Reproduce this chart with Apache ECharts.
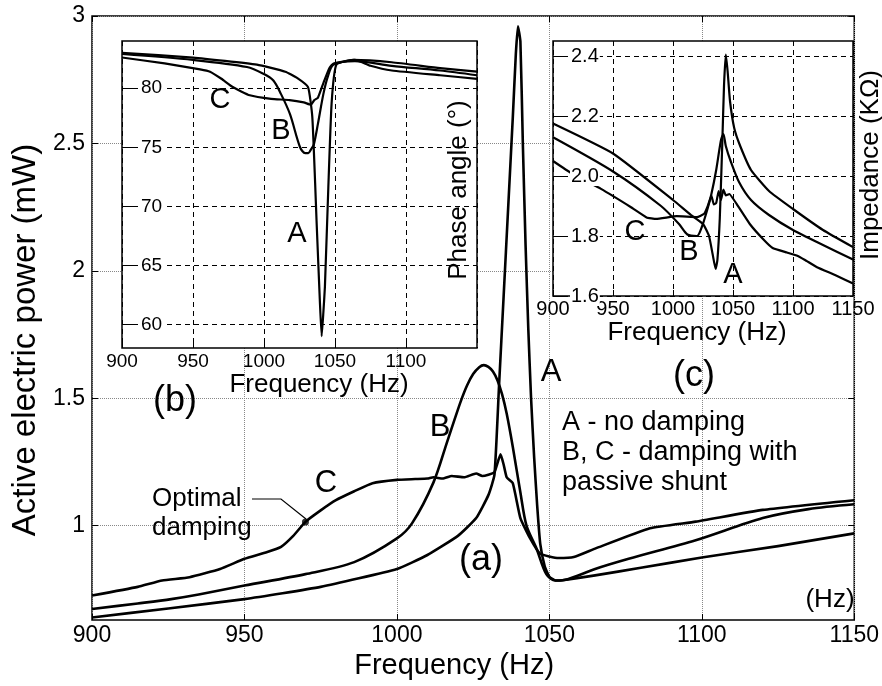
<!DOCTYPE html>
<html><head><meta charset="utf-8">
<script src="https://cdn.jsdelivr.net/npm/echarts@6/dist/echarts.min.js"></script>
<style>html,body{margin:0;padding:0;background:#fff}#c{width:882px;height:686px}</style>
</head><body><div id="c"></div>
<script>
const FONT = "'Liberation Sans', Arial, Helvetica, sans-serif";

// ---- tick values ----
const freqTicks = [900, 950, 1000, 1050, 1100, 1150];
const powerTicks = [1, 1.5, 2, 2.5, 3];
const phaseTicks = [60, 65, 70, 75, 80];
const impTicks = [1.6, 1.8, 2.0, 2.2, 2.4];

// ---- (a) active electric power (mW) ----
const powerFreqA = [900, 925, 950, 975, 1000, 1010, 1020, 1026, 1030, 1032, 1033.5, 1035, 1036.5, 1038, 1039, 1039.7, 1040.5, 1041.3, 1042.2, 1043.1, 1044, 1045, 1046, 1047, 1048.5, 1050, 1052, 1055, 1065, 1080, 1100, 1125, 1150];
const powerA = [0.64, 0.675, 0.712, 0.76, 0.83, 0.885, 0.96, 1.03, 1.12, 1.2, 1.55, 1.9, 2.25, 2.6, 2.85, 2.96, 2.9, 2.5, 2.1, 1.77, 1.5, 1.27, 1.08, 0.93, 0.84, 0.8, 0.785, 0.787, 0.805, 0.835, 0.875, 0.92, 0.97];

const powerFreqB = [900, 915, 926, 935, 950, 970, 986, 1000, 1005, 1012, 1016.5, 1019, 1021, 1023, 1025, 1027, 1028.5, 1030, 1031.5, 1033, 1034.5, 1036, 1038, 1040.5, 1042.5, 1045.8, 1049, 1052, 1056, 1065, 1076, 1098, 1120, 1135, 1150];
const powerB = [0.673, 0.695, 0.712, 0.73, 0.765, 0.81, 0.857, 0.95, 1.01, 1.17, 1.33, 1.42, 1.49, 1.55, 1.595, 1.622, 1.63, 1.623, 1.605, 1.57, 1.515, 1.44, 1.31, 1.13, 1.0, 0.91, 0.81, 0.785, 0.79, 0.83, 0.87, 0.943, 1.03, 1.065, 1.084];

const powerFreqC = [900, 915, 923, 932, 942, 950, 957, 962, 966, 970, 975, 980, 986, 992, 1000, 1006, 1010, 1012, 1015, 1018, 1022, 1026, 1028, 1030, 1032, 1034, 1035, 1036, 1038, 1040.5, 1043.7, 1047, 1053, 1058, 1065, 1083, 1098, 1120, 1150];
const powerC = [0.726, 0.76, 0.785, 0.798, 0.83, 0.87, 0.895, 0.917, 0.96, 1.015, 1.06, 1.1, 1.135, 1.167, 1.18, 1.183, 1.185, 1.19, 1.185, 1.195, 1.19, 1.205, 1.195, 1.2, 1.21, 1.28, 1.24, 1.19, 1.167, 1.03, 0.95, 0.89, 0.873, 0.877, 0.91, 0.99, 1.016, 1.062, 1.1];

const optimalPoint = [970, 1.015];

// ---- (b) phase angle (deg) ----
const phaseFreqA = [900, 950, 995, 1015, 1023, 1031, 1034, 1036, 1037, 1039.4, 1040.6, 1041.8, 1042.9, 1045.3, 1047.6, 1051, 1063, 1090, 1124, 1150];
const phaseA = [83.0, 82.6, 82.0, 81.4, 80.9, 80.1, 77.6, 72, 68.8, 61.8, 59.0, 61, 63.2, 71.6, 78.7, 82.0, 82.4, 82.2, 81.7, 81.4];

const phaseFreqB = [900, 950, 988, 1000, 1006.6, 1012, 1018.3, 1025.4, 1029, 1031.2, 1033, 1035, 1038, 1041.8, 1045, 1049, 1064, 1090, 1124, 1150];
const phaseB = [82.9, 82.4, 81.8, 81.2, 80.65, 79.5, 77.8, 75.0, 74.5, 74.5, 74.8, 75.2, 77, 79.5, 81, 82.0, 82.3, 81.9, 81.5, 81.1];

const phaseFreqC = [900, 930, 955, 962, 970, 978, 990, 1005, 1018, 1028, 1033, 1035.5, 1038, 1042, 1046, 1049, 1064, 1075, 1090, 1124, 1150];
const phaseC = [82.6, 82.1, 81.6, 81.4, 80.8, 80.1, 79.4, 79.1, 79.0, 78.8, 78.6, 79.0, 79.2, 80.5, 81.7, 82.1, 82.4, 81.9, 81.5, 81.1, 80.8];

// ---- (c) impedance (kOhm) ----
const impFreqA = [900, 950, 1000, 1015, 1025, 1030, 1033, 1035.5, 1037, 1039, 1041, 1042.5, 1044, 1045.5, 1047.5, 1051, 1056, 1065, 1080, 1100, 1125, 1150];
const impA = [2.175, 2.075, 1.92, 1.87, 1.84, 1.8, 1.74, 1.69, 1.72, 1.86, 2.1, 2.3, 2.405, 2.35, 2.25, 2.16, 2.1, 2.02, 1.95, 1.89, 1.82, 1.763];

const impFreqB = [900, 950, 990, 1005, 1012, 1020, 1024, 1028, 1032, 1036, 1040, 1042, 1044, 1048, 1055, 1065, 1080, 1100, 1125, 1150];
const impB = [2.129, 2.015, 1.9, 1.84, 1.805, 1.8, 1.83, 1.88, 1.94, 2.02, 2.12, 2.14, 2.1, 2.05, 1.98, 1.92, 1.87, 1.82, 1.77, 1.722];

const impFreqC = [900, 915, 940, 965, 978, 986, 1003, 1020, 1026, 1029, 1032, 1034, 1036, 1038, 1040, 1042, 1044, 1047, 1053, 1064, 1075, 1083, 1095, 1103, 1110, 1120, 1135, 1150];
const impC = [2.05, 2.01, 1.957, 1.896, 1.862, 1.857, 1.866, 1.863, 1.874, 1.9, 1.935, 1.905, 1.91, 1.95, 1.92, 1.955, 1.935, 1.94, 1.907, 1.84, 1.79, 1.76, 1.745, 1.735, 1.72, 1.696, 1.67, 1.642];

const zip = (xs, ys) => xs.map((x, i) => [x, ys[i]]);
const plain = v => String(v);

const txt = { color: '#000', fontFamily: FONT };
const mainDotted = { show: true, lineStyle: { type: 'dotted', color: '#888', width: 1 } };
const insetDashed = { show: true, lineStyle: { type: [5, 4], color: '#000', width: 1 } };

function line(name, xi, yi, data, w, z, smooth) {
  return { name, type: 'line', xAxisIndex: xi, yAxisIndex: yi, data, showSymbol: false, symbol: 'none',
    smooth: smooth,
    lineStyle: { color: '#000', width: w, join: 'round' }, z: z, animation: false, silent: true };
}

function gText(text, x, y, size, opts) {
  return Object.assign({ type: 'text', x, y, z: 100,
    style: { text, fontSize: size, fontFamily: FONT, fill: '#000', align: 'center', verticalAlign: 'middle' } }, opts || {});
}
function gTextL(text, x, y, size) {
  return { type: 'text', x, y, z: 100,
    style: { text, fontSize: size, fontFamily: FONT, fill: '#000', align: 'left', verticalAlign: 'middle' } };
}

const chart = echarts.init(document.getElementById('c'), null, { renderer: 'canvas' });
chart.setOption({
  animation: false,
  backgroundColor: '#fff',
  grid: [
    { left: 92, top: 16, right: 22, bottom: 66, show: true, borderColor: '#000', borderWidth: 1.5, backgroundColor: 'transparent' },
    { left: 122, top: 41, width: 355, height: 307, show: true, borderColor: '#000', borderWidth: 1.5, backgroundColor: '#fff', z: 1 },
    { left: 553, top: 41, width: 300, height: 255, show: true, borderColor: '#000', borderWidth: 1.5, backgroundColor: '#fff', z: 1 }
  ],
  xAxis: [
    { gridIndex: 0, type: 'value', min: 900, max: 1150, interval: 50, position: 'bottom',
      axisLine: { show: false }, axisTick: { inside: true, length: 6, lineStyle: { color: '#000' }, customValues: freqTicks },
      axisLabel: Object.assign({ margin: 4, fontSize: 23, customValues: freqTicks, formatter: plain }, txt),
      splitLine: mainDotted,
      name: 'Frequency (Hz)', nameLocation: 'middle', nameGap: 21,
      nameTextStyle: Object.assign({ fontSize: 29, padding: [0, 38, 0, 0] }, txt) },
    { gridIndex: 0, type: 'value', min: 900, max: 1150, interval: 50, position: 'top',
      axisLine: { show: false }, axisTick: { inside: true, length: 6, lineStyle: { color: '#000' } },
      axisLabel: { show: false }, splitLine: { show: false } },
    { gridIndex: 1, type: 'value', min: 900, max: 1150, interval: 50, z: 3,
      axisLine: { show: false }, axisTick: { inside: true, length: 6, lineStyle: { color: '#000' } },
      axisLabel: Object.assign({ margin: 4, fontSize: 19, showMaxLabel: false, formatter: plain }, txt),
      splitLine: insetDashed,
      name: 'Frequency (Hz)', nameLocation: 'middle', nameGap: 23,
      nameTextStyle: Object.assign({ fontSize: 26, padding: [0, 0, 0, 39] }, txt) },
    { gridIndex: 2, type: 'value', min: 900, max: 1150, interval: 50, z: 3,
      axisLine: { show: false }, axisTick: { inside: true, length: 6, lineStyle: { color: '#000' } },
      axisLabel: Object.assign({ margin: 3, fontSize: 20, formatter: plain }, txt),
      splitLine: insetDashed,
      name: 'Frequency (Hz)', nameLocation: 'middle', nameGap: 23,
      nameTextStyle: Object.assign({ fontSize: 26, padding: [0, 12, 0, 0] }, txt) }
  ],
  yAxis: [
    { gridIndex: 0, type: 'value', min: 0.63, max: 3, position: 'left',
      axisLine: { show: false }, axisTick: { inside: true, length: 6, lineStyle: { color: '#000' }, customValues: powerTicks },
      axisLabel: Object.assign({ margin: 7, fontSize: 23, customValues: powerTicks }, txt),
      splitLine: mainDotted,
      name: 'Active electric power (mW)', nameLocation: 'middle', nameGap: 40,
      nameTextStyle: Object.assign({ fontSize: 33, padding: [0, 44, 0, 0] }, txt) },
    { gridIndex: 0, type: 'value', min: 0.63, max: 3, position: 'right',
      axisLine: { show: false }, axisTick: { inside: true, length: 6, lineStyle: { color: '#000' }, customValues: powerTicks },
      axisLabel: { show: false, customValues: powerTicks }, splitLine: { show: false } },
    { gridIndex: 1, type: 'value', min: 58, max: 84, position: 'left', z: 6,
      axisLine: { show: false }, axisTick: { inside: true, length: 16, lineStyle: { color: '#000' }, customValues: phaseTicks },
      axisLabel: Object.assign({ inside: true, margin: 18, fontSize: 19, customValues: phaseTicks, backgroundColor: '#fff', padding: [0, 1] }, txt),
      splitLine: { show: false } },
    { gridIndex: 1, type: 'value', min: 58, max: 84, position: 'right', z: 3,
      axisLine: { show: false }, axisTick: { show: false, customValues: phaseTicks },
      axisLabel: { show: false, customValues: phaseTicks }, splitLine: insetDashed },
    { gridIndex: 2, type: 'value', min: 1.6, max: 2.45, position: 'left', z: 6,
      axisLine: { show: false }, axisTick: { inside: true, length: 15, lineStyle: { color: '#000' }, customValues: impTicks },
      axisLabel: Object.assign({ inside: true, margin: 17, fontSize: 20, customValues: impTicks, backgroundColor: '#fff', padding: [0, 1],
        formatter: v => Number(v).toFixed(1) }, txt),
      splitLine: { show: false } },
    { gridIndex: 2, type: 'value', min: 1.6, max: 2.45, position: 'right', z: 3,
      axisLine: { show: false }, axisTick: { show: false, customValues: impTicks },
      axisLabel: { show: false, customValues: impTicks }, splitLine: insetDashed }
  ],
  series: [
    line('A', 0, 0, zip(powerFreqA, powerA), 2.6, 2, 0.15),
    line('B', 0, 0, zip(powerFreqB, powerB), 2.6, 2, 0.3),
    line('C', 0, 0, zip(powerFreqC, powerC), 2.6, 2, 0.15),
    { name: 'Optimal damping', type: 'scatter', xAxisIndex: 0, yAxisIndex: 0, data: [optimalPoint],
      symbol: 'circle', symbolSize: 7, itemStyle: { color: '#000' }, z: 3, silent: true },
    line('A phase', 2, 2, zip(phaseFreqA, phaseA), 2.2, 4, 0.15),
    line('B phase', 2, 2, zip(phaseFreqB, phaseB), 2.2, 4, 0.3),
    line('C phase', 2, 2, zip(phaseFreqC, phaseC), 2.2, 4, 0.15),
    line('A impedance', 3, 4, zip(impFreqA, impA), 2.2, 4, 0.15),
    line('B impedance', 3, 4, zip(impFreqB, impB), 2.2, 4, 0.25),
    line('C impedance', 3, 4, zip(impFreqC, impC), 2.2, 4, 0.1)
  ],
  graphic: [
    gText('A', 551, 372, 31), gText('B', 440, 427, 31), gText('C', 326, 483, 31),
    gText('(a)', 481, 560, 36), gText('(b)', 175, 401, 36), gText('(c)', 694, 376, 36),
    gTextL('A - no damping', 562, 423, 27),
    gTextL('B, C - damping with', 562, 453, 27),
    gTextL('passive shunt', 562, 483, 27),
    gTextL('Optimal', 152, 499, 26),
    gTextL('damping', 152, 528, 26),
    gText('(Hz)', 830, 600, 26),
    gText('C', 220, 100, 29), gText('B', 281, 131, 29), gText('A', 297, 234, 29),
    gText('C', 635, 232, 29), gText('B', 689, 252, 29), gText('A', 733, 275, 29),
    gText('Phase angle (°)', 459, 190, 26, { rotation: Math.PI / 2 }),
    gText('Impedance (KΩ)', 871, 165, 26, { rotation: Math.PI / 2 }),
    { type: 'polyline', z: 100, shape: { points: [[252, 499], [281, 499], [306, 519]] },
      style: { stroke: '#000', lineWidth: 1.2, fill: null } }
  ]
});
</script></body></html>
